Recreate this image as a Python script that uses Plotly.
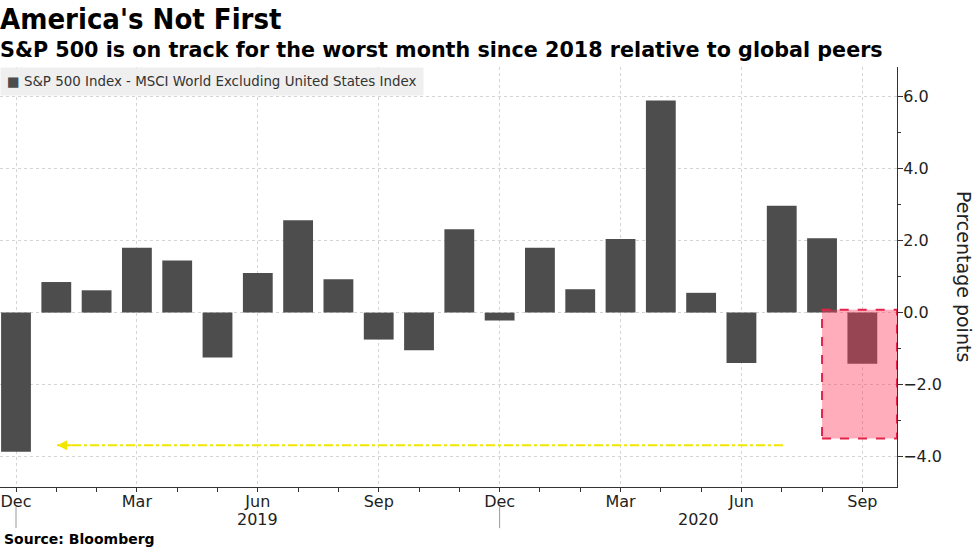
import plotly.graph_objects as go

# ---- data ----
months = ["2018-12", "2019-01", "2019-02", "2019-03", "2019-04", "2019-05",
          "2019-06", "2019-07", "2019-08", "2019-09", "2019-10", "2019-11",
          "2019-12", "2020-01", "2020-02", "2020-03", "2020-04", "2020-05",
          "2020-06", "2020-07", "2020-08", "2020-09"]
values = [-3.87, 0.85, 0.62, 1.80, 1.45, -1.25,
          1.10, 2.57, 0.93, -0.75, -1.05, 2.32,
          -0.22, 1.80, 0.65, 2.05, 5.90, 0.55,
          -1.40, 2.97, 2.07, -1.42]
tick_idx = [0, 3, 6, 9, 12, 15, 18, 21]
tick_labels = ["Dec", "Mar", "Jun", "Sep", "Dec", "Mar", "Jun", "Sep"]
year_labels = ["2019", "2020"]
y_ticks = [-4, -2, 0, 2, 4, 6]
series_name = "S&P 500 Index - MSCI World Excluding United States Index"

# highlight box and arrow (data coordinates)
box_x0, box_y0, box_y1 = 20.0, -3.5, 0.08
arrow_x_start, arrow_x_end, arrow_y = 19.03, 1.02, -3.69

FONT = "DejaVu Sans"
BAR = "#4d4d4d"
X_MAX = 21.86
x = list(range(len(months)))

fig = go.Figure()
fig.add_trace(go.Bar(
    x=x, y=values, name=series_name,
    marker=dict(color=BAR, line=dict(width=0)),
    width=0.74, showlegend=False,
))

# yellow dash-dot arrow line
fig.add_trace(go.Scatter(
    x=[arrow_x_start, arrow_x_end], y=[arrow_y, arrow_y], mode="lines",
    line=dict(color="#f2e600", width=2, dash="dashdot"),
    showlegend=False, hoverinfo="skip",
))
fig.add_annotation(
    x=arrow_x_end, y=arrow_y, ax=arrow_x_end + 0.4, ay=arrow_y,
    xref="x", yref="y", axref="x", ayref="y",
    showarrow=True, arrowhead=2, arrowsize=1, arrowwidth=2,
    arrowcolor="#f2e600", text="",
)

# highlight box
fig.add_shape(
    type="rect", xref="x", yref="y",
    x0=box_x0, x1=X_MAX, y0=box_y0, y1=box_y1,
    fillcolor="rgba(255,60,90,0.42)",
    line=dict(color="#e5234a", width=2, dash="dash"),
    layer="above",
)

# legend (drawn as a boxed label)
fig.add_annotation(
    x=0, y=1, xref="paper", yref="paper", xanchor="left", yanchor="top",
    yshift=0, text=f"<span style='color:{BAR}'>■</span> {series_name}",
    showarrow=False, bgcolor="#efefef", borderpad=6, align="left",
    font=dict(family=FONT, size=13.4, color="#333"),
)

# year labels and separators
fig.add_annotation(x=(0 + 12) / 2, y=0, xref="x", yref="paper",
                   text=year_labels[0], showarrow=False, yanchor="middle",
                   yshift=-32, font=dict(family=FONT, size=16, color="#222"))
fig.add_annotation(x=(12 + X_MAX) / 2, y=0, xref="x", yref="paper",
                   text=year_labels[1], showarrow=False, yanchor="middle",
                   yshift=-32, font=dict(family=FONT, size=16, color="#222"))
for sx in [0, 12]:
    fig.add_shape(type="line", xref="x", yref="paper", x0=sx, x1=sx,
                  y0=-0.048, y1=-0.098, line=dict(color="#999", width=1))

# titles
fig.add_annotation(x=0, y=1, xref="paper", yref="paper", xanchor="left",
                   yanchor="top", yshift=67, xshift=-2,
                   text="<b>America's Not First</b>", showarrow=False,
                   font=dict(family="DejaVu Sans Condensed", size=29, color="#000"))
fig.add_annotation(x=0, y=1, xref="paper", yref="paper", xanchor="left",
                   yanchor="top", yshift=31, xshift=-2,
                   text="<b>S&P 500 is on track for the worst month since 2018 relative to global peers</b>",
                   showarrow=False,
                   font=dict(family=FONT, size=20.7, color="#000"))
fig.add_annotation(x=0, y=0, xref="paper", yref="paper", xanchor="left",
                   yanchor="bottom", yshift=-62, xshift=2,
                   text="<b>Source: Bloomberg</b>", showarrow=False,
                   font=dict(family=FONT, size=14, color="#000"))
fig.add_annotation(x=1, y=0.5, xref="paper", yref="paper", xanchor="center",
                   yanchor="middle", xshift=67, yshift=1, textangle=90,
                   text="Percentage points", showarrow=False,
                   font=dict(family=FONT, size=19, color="#222"))

fig.update_layout(
    width=977, height=549,
    margin=dict(l=0, r=80, t=67, b=62),
    paper_bgcolor="white", plot_bgcolor="white",
    font=dict(family=FONT, color="#222"),
    showlegend=False,
    xaxis=dict(
        range=[-0.397, X_MAX], tickmode="array", tickvals=tick_idx,
        ticktext=tick_labels, ticks="outside", ticklen=4, tickcolor="#333",
        ticklabelstandoff=-4,
        showgrid=True, gridcolor="#d4d4d4", griddash="dot", gridwidth=1,
        showline=True, linecolor="#333", linewidth=1, zeroline=False,
        tickfont=dict(family=FONT, size=16, color="#222"),
        minor=dict(ticks="outside", ticklen=4, tickcolor="#333",
                   tick0=0, dtick=1, showgrid=False),
    ),
    yaxis=dict(
        side="right", range=[-4.85, 6.83], tickmode="array", tickvals=y_ticks,
        tickformat=".1f", ticks="outside", ticklen=5, tickcolor="#333",
        ticklabelstandoff=-3,
        showgrid=True, gridcolor="#d4d4d4", griddash="dot", gridwidth=1,
        showline=True, linecolor="#333", linewidth=1, zeroline=False,
        tickfont=dict(family=FONT, size=16, color="#222"),
        minor=dict(ticks="outside", ticklen=3, tickcolor="#333",
                   tick0=-5, dtick=1, showgrid=False),
    ),
)

fig.write_html("out.html", config={"displayModeBar": False},
               post_script="document.body.style.margin='0';")
